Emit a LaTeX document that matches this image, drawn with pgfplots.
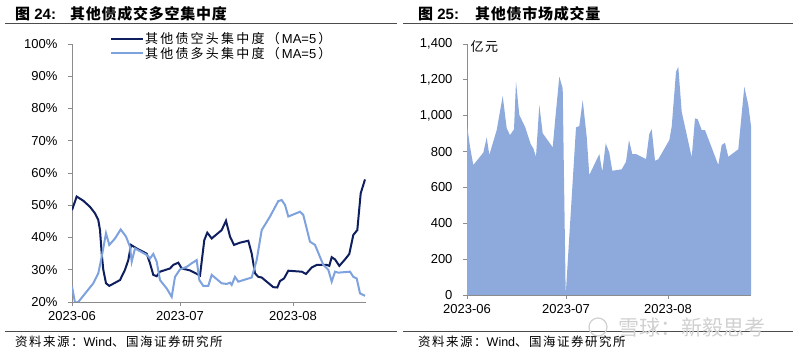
\documentclass[border=0pt]{standalone}
\usepackage{fontspec}
\setmainfont{Liberation Sans}
\newfontfamily\cjk{Noto Sans CJK SC}
\newfontfamily\cjkl[LetterSpace=12]{Noto Sans CJK SC}
\newfontfamily\cjkt[LetterSpace=5]{Noto Sans CJK SC}
\newfontfamily\cjkg[LetterSpace=17]{Noto Sans CJK SC}
\usepackage{pgfplots}
\pgfplotsset{compat=1.18}
\definecolor{darkline}{RGB}{14,30,94}
\definecolor{lightline}{RGB}{125,162,222}
\definecolor{areablue}{RGB}{142,170,220}
\definecolor{axisgray}{RGB}{140,140,140}
\definecolor{wmgray}{RGB}{208,208,208}
\pgfplotsset{
  common/.style={
    scale only axis,
    anchor=south west,
    axis x line=bottom, axis y line=left,
    axis line style={-,color=axisgray,line width=0.8pt},
    tick style={color=axisgray,line width=0.8pt},
    tick align=outside, major tick length=4pt,
    /pgf/number format/assume math mode=true,
    ticklabel style={font=\fontsize{13}{15}\selectfont},
    yticklabel style={xshift=-7pt},
    xticklabel style={yshift=-2pt},
    clip mode=individual,
  }
}
\begin{document}
\begin{tikzpicture}[x=1pt,y=1pt]
\path[use as bounding box] (0,0) rectangle (800,353);
% titles
\node[anchor=west,inner sep=0pt] at (15,339) {\fontsize{15}{17}\selectfont{\cjk\bfseries 图} \textbf{24:}};
\node[anchor=west,inner sep=0pt] at (70,339) {\fontsize{15}{17}\selectfont\cjkt\bfseries 其他债成交多空集中度};
\node[anchor=west,inner sep=0pt] at (418,339) {\fontsize{15}{17}\selectfont{\cjk\bfseries 图} \textbf{25:}};
\node[anchor=west,inner sep=0pt] at (475,339) {\fontsize{15}{17}\selectfont\cjkt\bfseries 其他债市场成交量};
\draw[line width=0.9pt,color=black!70] (5,329.7) -- (397,329.7);
\draw[line width=0.9pt,color=black!70] (403,329.7) -- (793,329.7);
\draw[line width=0.9pt,color=black!70] (5,22) -- (397,22);
\draw[line width=0.9pt,color=black!70] (403,22) -- (793,22);
\node[anchor=west,inner sep=0pt] at (15,11) {\fontsize{12.5}{14}\selectfont{\cjkl 资料来源：}Wind{\cjkl 、国海证券研究所}};
\node[anchor=west,inner sep=0pt] at (418,11) {\fontsize{12.5}{14}\selectfont{\cjkl 资料来源：}Wind{\cjkl 、国海证券研究所}};
% watermark
\node[anchor=west,inner sep=0pt,text=wmgray] at (618,26) {\fontsize{21}{24}\selectfont\cjk 雪球：新毅思考};
\draw[wmgray,line width=1.2pt] (598,26) circle (9);

% left chart
\begin{axis}[common,
  at={(72pt,51pt)}, width=294pt, height=258pt,
  xmin=72, xmax=366, ymin=20, ymax=100,
  xtick={72,180,293}, xticklabels={2023-06,2023-07,2023-08},
  ytick={20,30,...,100},
  yticklabel={\pgfmathprintnumber{\tick}\%},
  legend style={at={(0.129,1.05)}, anchor=north west, draw=none, fill=none,
    font=\fontsize{13}{15}\selectfont, inner sep=0pt, row sep=0pt,
    nodes={inner sep=1pt}},
  legend cell align=left,
  legend image code/.code={\draw[#1] (0pt,0pt) -- (32pt,0pt);},
]
\addplot[darkline, line width=2pt] coordinates {
(72,48.5) (76.7,52.7) (83.3,51.4) (90,49.5) (95,47.5) (98.3,45.4) (100,42.3)
(101.7,35) (103.3,30) (106,25.8) (109.3,25) (120,26.8) (125,30) (128.3,33)
(131,37.7) (136.7,36.6) (146.7,35) (150,32) (153.3,28.4) (156.7,28) (160,29.4)
(170,30.4) (173.3,31.5) (178.3,32.2) (181.7,30.4) (190,29.8) (200,28.2)
(204.3,39.2) (207.3,41.5) (211.7,39.7) (216.7,41) (221.7,42.3) (226,45.2)
(230,40.3) (234,37.7) (240,38.4) (248.3,39) (251.7,35) (255,28.9) (258.3,27.8)
(261.7,27.6) (266.7,26.3) (273.3,24.6) (277.3,24.5) (280,26.5) (284,27.3)
(288.3,29.7) (301.7,29.4) (306,28.7) (311.7,30.7) (316.7,31.5) (326.7,31.5)
(329.3,31.2) (331.7,33.9) (335,33.2) (339.3,31.2) (345,33.2) (349.3,34.9)
(353.3,40.8) (357.3,42.3) (360.7,53.7) (365,58)
};
\addlegendentry{{\cjkg 其他债空头集中度（}\,MA=5\,{\cjkg ）}}
\addplot[lightline, line width=2pt] coordinates {
(72,24.8) (75,19.8) (78.3,20) (93.3,25.8) (98.3,28.9) (101.7,34) (106,41.3)
(109.3,37.7) (115,39.7) (120.7,42.5) (126,40.3) (130,37.1) (131.7,32.5)
(135,36.6) (146.7,34.6) (150,33.5) (153.3,34.9) (156.7,32.5) (160,26.8)
(166.7,24.2) (171.7,21.6) (175,27.8) (180,30.1) (186.7,30.9) (191.7,32)
(196.7,33) (199.3,26.8) (203.3,25) (208.3,25) (211.7,28.4) (221.7,25.8)
(226.7,25.6) (230,26) (231.7,25.3) (235,27.8) (238.3,26.3) (251.7,27.6)
(256.7,33) (261.7,42.3) (270,46.5) (278.3,51.3) (281.7,51.6) (285,50.1)
(288.3,46.5) (300,48) (303.3,47) (310,38.7) (315,37.7) (323.3,31.5) (328.3,30)
(331.7,26.3) (335,29.4) (338.3,29.1) (350,29.4) (353.3,27.8) (356.7,27.3)
(360,22.7) (365,21.9)
};
\addlegendentry{{\cjkg 其他债多头集中度（}\,MA=5\,{\cjkg ）}}
\end{axis}

% right chart
\begin{axis}[common,
  at={(467pt,58pt)}, width=284pt, height=251pt,
  xmin=467, xmax=751, ymin=0, ymax=1400,
  xtick={467,566,668}, xticklabels={2023-06,2023-07,2023-08},
  ytick={0,200,...,1400},
  /pgf/number format/.cd, 1000 sep={,},
]
\addplot[fill=areablue, draw=none] coordinates {
(467,948) (470,827) (473.3,725) (483.3,794) (486.7,879) (489.3,781) (496.7,920)
(502.7,1110) (506.7,930) (510,892) (514,924) (516,1190) (519.3,1004) (525,939)
(530.7,842) (533.3,818) (536,771) (539.3,1060) (542.7,902) (552.7,824)
(555,967) (559.3,1218) (562.7,1153) (565.7,0) (576,935) (579.3,942)
(582.7,1087) (586.7,883) (589.3,669) (599.3,786) (602.3,688) (605.7,846)
(609.3,794) (612.3,693) (621.7,701) (626,743) (629,864) (632.3,786) (636,786)
(646,758) (649.3,898) (651.7,924) (655,749) (658.3,757) (669.3,864)
(671.7,939) (676,1245) (678.3,1273) (681.7,1022) (691.7,768) (695,985)
(697.7,980) (701.7,920) (705,920) (718.3,725) (721.7,837) (725,849)
(728.3,771) (738.3,813) (744.3,1162) (748.3,1060) (751,942)
} \closedcycle;
\node[anchor=west,inner sep=0pt] at (rel axis cs:0.012,0.99) {\fontsize{13}{15}\selectfont\cjkl 亿元};
\end{axis}
\end{tikzpicture}
\end{document}
